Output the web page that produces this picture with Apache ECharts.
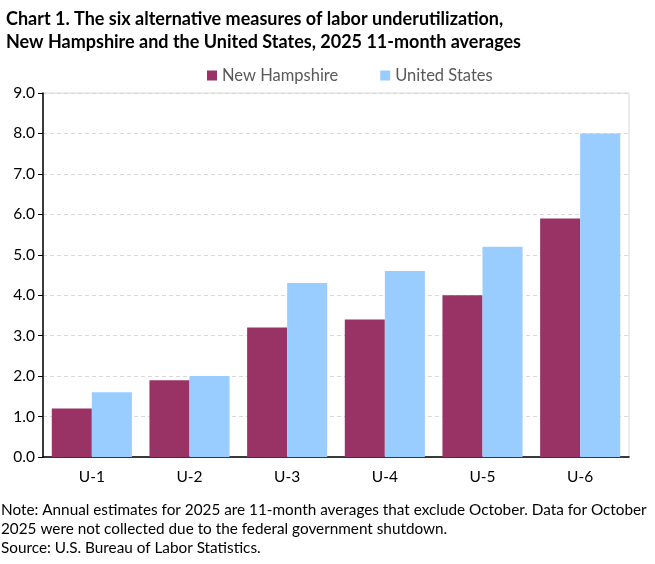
<!DOCTYPE html>
<html><head><meta charset="utf-8">
<script src="https://cdn.jsdelivr.net/npm/echarts@6/dist/echarts.min.js"></script>
<style>html,body{margin:0;padding:0;background:#fff}#c{width:655px;height:564px}</style>
</head><body><div id="c"></div>
<script>
const categories = ['U-1','U-2','U-3','U-4','U-5','U-6'];
const newHampshire = [1.2, 1.9, 3.2, 3.4, 4.0, 5.9];
const unitedStates = [1.6, 2.0, 4.3, 4.6, 5.2, 8.0];
const yTicks = {min: 0, max: 9, interval: 1};

const FONT = 'Lato, "Open Sans", sans-serif';
const chart = echarts.init(document.getElementById('c'), null, {renderer: 'canvas'});
chart.setOption({
  animation: false,
  textStyle: {fontFamily: FONT},
  title: {
    text: 'Chart 1. The six alternative measures of labor underutilization,\nNew Hampshire and the United States, 2025 11-month averages',
    left: 1, top: 3,
    textStyle: {fontFamily: FONT, fontWeight: 'bold', fontSize: 18, color: '#000', lineHeight: 23}
  },
  legend: {
    top: 62, left: 202,
    itemWidth: 10, itemHeight: 10, itemGap: 42,
    icon: 'rect',
    textStyle: {fontFamily: FONT, fontSize: 16.5, color: '#595959'},
    data: ['New Hampshire', 'United States']
  },
  grid: {left: 43, right: 26, top: 93, bottom: 107, show: true, borderColor: '#d9d9d9', borderWidth: 1},
  xAxis: {
    type: 'category', data: categories,
    axisLine: {lineStyle: {color: '#000', width: 1.5}},
    axisTick: {show: false},
    axisLabel: {fontFamily: FONT, fontSize: 15.5, color: '#000', margin: 12}
  },
  yAxis: {
    type: 'value', min: yTicks.min, max: yTicks.max, interval: yTicks.interval,
    axisLine: {show: true, lineStyle: {color: '#000', width: 1.5}},
    axisTick: {show: true, length: 5, lineStyle: {color: '#000'}},
    axisLabel: {fontFamily: FONT, fontSize: 15.5, color: '#000', formatter: v => v.toFixed(1), margin: 8},
    splitLine: {lineStyle: {color: '#d9d9d9', type: [4, 3]}}
  },
  series: [
    {name: 'New Hampshire', type: 'bar', data: newHampshire, itemStyle: {color: '#993366'}, barGap: '0%', barCategoryGap: '18%'},
    {name: 'United States', type: 'bar', data: unitedStates, itemStyle: {color: '#99CCFF'}, barGap: '0%', barCategoryGap: '18%'}
  ],
  graphic: [
    {type: 'text', left: 1, top: 501, style: {text: 'Note: Annual estimates for 2025 are 11-month averages that exclude October. Data for October\n2025 were not collected due to the federal government shutdown.\nSource: U.S. Bureau of Labor Statistics.', font: '15.3px ' + FONT, fill: '#000', lineHeight: 19}}
  ]
});
</script></body></html>
